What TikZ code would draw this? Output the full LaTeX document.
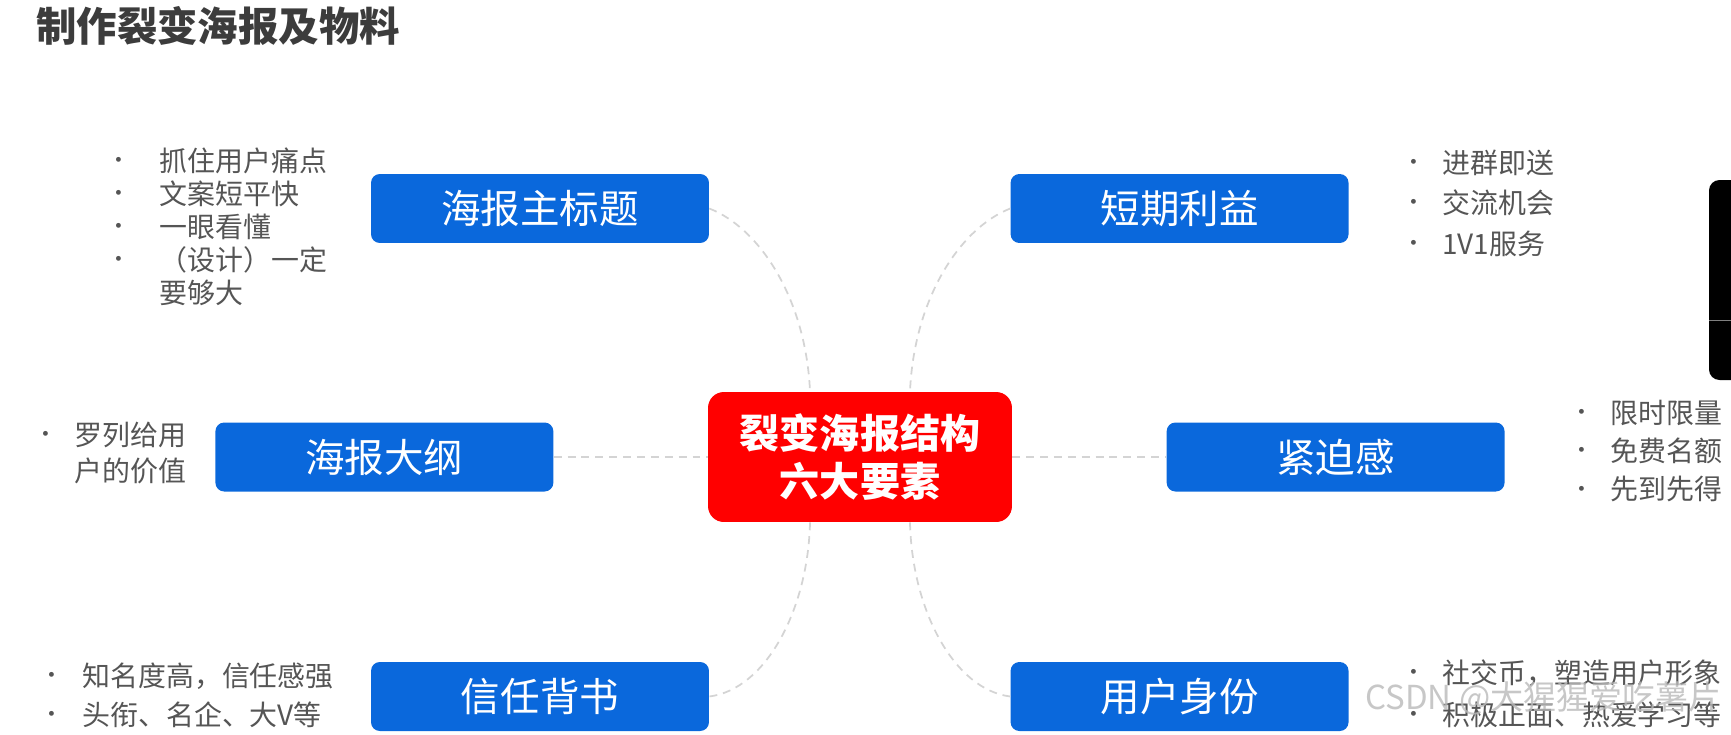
\documentclass[tikz,border=0pt]{standalone}
\usepackage{fontspec}
\setmainfont{Noto Sans CJK SC}
\usetikzlibrary{positioning}
\definecolor{topicblue}{RGB}{10,104,220}
\definecolor{corered}{RGB}{255,0,0}
\definecolor{titlegray}{RGB}{60,60,60}
\definecolor{pointgray}{RGB}{85,85,85}
\definecolor{linkgray}{RGB}{212,212,212}
\definecolor{markgray}{RGB}{185,185,185}
\newcommand{\bdot}[1][22.8pt]{\makebox[#1][l]{\raisebox{1.6pt}{\fontsize{13pt}{13pt}\selectfont •}}}

\begin{document}
\begin{tikzpicture}[x=0.02cm, y=-0.02cm,
    topic/.style={rectangle, rounded corners=5pt, fill=topicblue, text=white,
                  minimum width=6.76cm, minimum height=1.38cm, inner sep=0pt,
                  font=\fontsize{22.5pt}{27pt}\selectfont},
    core/.style={rectangle, rounded corners=9pt, fill=corered, text=white,
                 minimum width=6.08cm, minimum height=2.6cm, align=center,
                 inner sep=0pt, font=\bfseries\fontsize{22.8pt}{27.3pt}\selectfont},
    pointlist/.style={anchor=west, align=left, inner sep=0pt, text=pointgray,
                      font=\fontsize{15.9pt}{#1}\selectfont},
    link/.style={draw=linkgray, line width=1pt, dash pattern=on 4.5pt off 3.4pt}
]
\useasboundingbox (0,0) rectangle (1731,734);

\node[anchor=west, inner sep=0pt, text=titlegray,
      font=\bfseries\fontsize{23pt}{27pt}\selectfont] (heading) at (36,26) {制作裂变海报及物料};

\node[core] (core) at (860,457) {裂变海报结构\\六大要素};

\node[topic] (mainttl) at (540,208.5) {海报主标题};
\node[topic, right=6.02cm of mainttl] (shortterm) {短期利益};
\node[topic, left=3.08cm of core] (outline) {海报大纲};
\node[topic, right=3.08cm of core] (urgency) {紧迫感};
\node[topic] (trust) at (540,696.5) {信任背书};
\node[topic, right=6.02cm of trust] (identity) {用户身份};

% bullet points beside each box
\node[pointlist=18.8pt] (mainpts) at (107,227) {\bdot[29.6pt]抓住用户痛点\\ \bdot[29.6pt]文案短平快\\
    \bdot[29.6pt]一眼看懂\\ \bdot[29.6pt]（设计）一定\\ \hspace*{29.6pt}要够大};
\node[pointlist=23pt] (shortpts) at (1402,203) {\bdot 进群即送\\ \bdot 交流机会\\ \bdot 1V1服务};
\node[pointlist=21pt] (outlinepts) at (34,453) {\bdot 罗列给用\\ \hspace*{22.8pt}户的价值};
\node[pointlist=21.9pt] (urgentpts) at (1570,451) {\bdot 限时限量\\ \bdot 免费名额\\ \bdot 先到先得};
\node[pointlist=22.2pt] (trustpts) at (40,695) {\bdot[23.9pt]知名度高，信任感强\\ \bdot[23.9pt]头衔、名企、大V等};
\node[pointlist=23.9pt] (identitypts) at (1402,694) {\bdot 社交币，塑造用户形象\\ \bdot 积极正面、热爱学习等};

% dashed links
\draw[link] (mainttl.east) .. controls +(51,20) and +(-4,-92) .. ([xshift=-1cm]core.north);
\draw[link] (shortterm.west) .. controls +(-51,20) and +(4,-92) .. ([xshift=1cm]core.north);
\draw[link] ([xshift=-1cm]core.south) .. controls +(-2,88) and +(56,-7) .. (trust.east);
\draw[link] ([xshift=1cm]core.south) .. controls +(2,88) and +(-56,-7) .. (identity.west);
\draw[link] (outline) -- (core);
\draw[link] (core) -- (urgency);

% screen overlay and watermark
\fill[black, rounded corners=6pt] (1709,180) rectangle (1760,380);
\draw[gray] (1709,320) -- (1731,320);
\node[anchor=west, inner sep=0pt, text=markgray, opacity=0.8,
      font=\fontsize{18.8pt}{22pt}\selectfont] (mark) at (1365,698) {CSDN @大猩猩爱吃薯片};
\end{tikzpicture}
\end{document}
